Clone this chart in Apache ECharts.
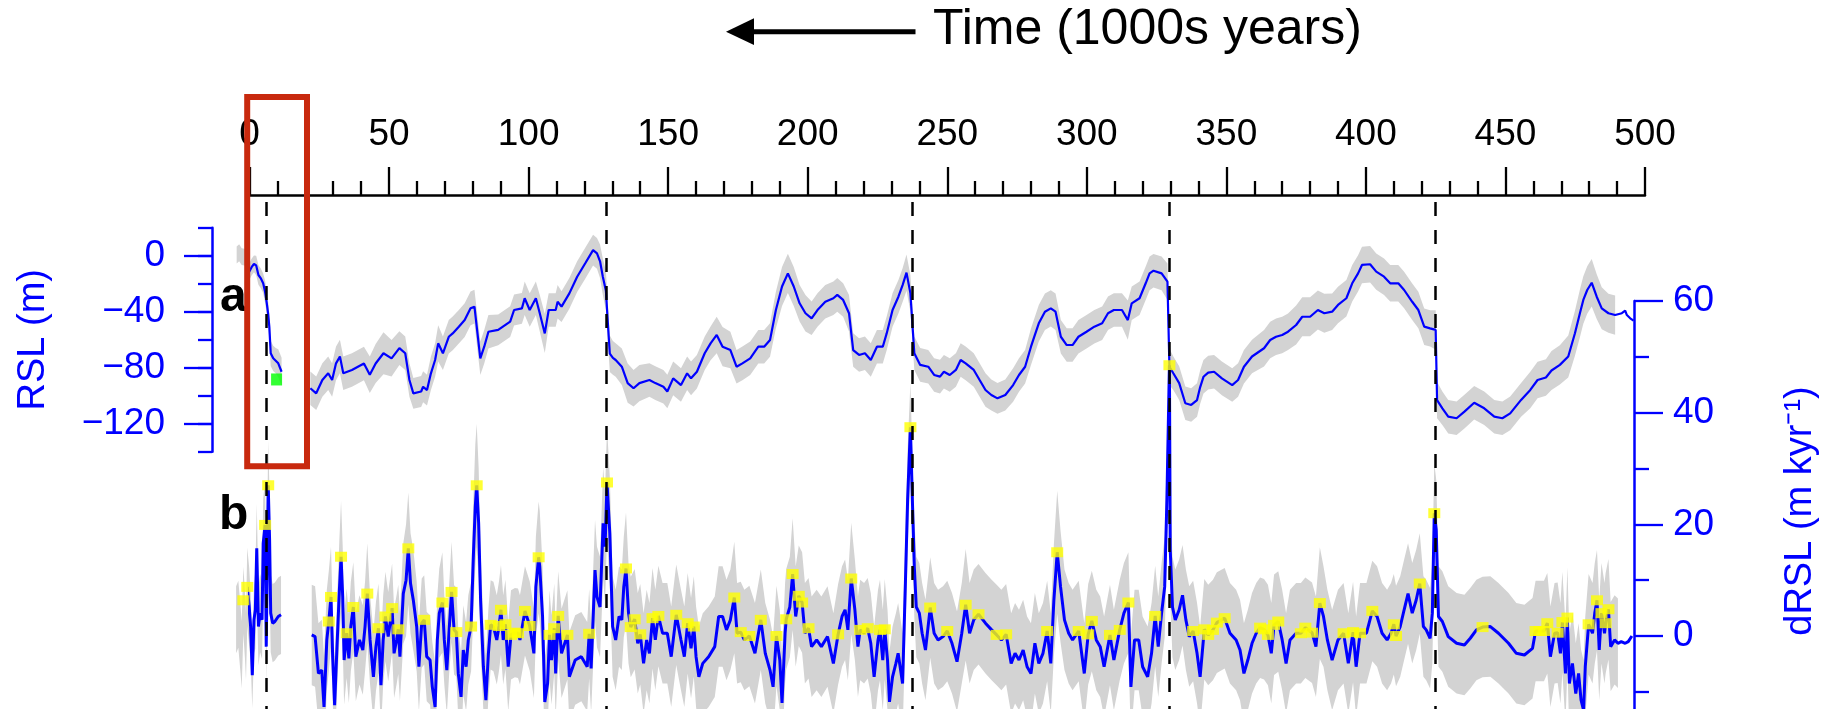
<!DOCTYPE html>
<html>
<head>
<meta charset="utf-8">
<script src="https://cdn.jsdelivr.net/npm/echarts@6/dist/echarts.min.js"></script>
<style>
html, body { margin: 0; padding: 0; background: #fff; }
#chart { width: 1828px; height: 709px; }
</style>
</head>
<body>
<div id="chart"></div>
<script>
// relative sea level, [time (ka), RSL (m), band half-width (m)]
const rslRecent = [
  [-4.6, 0.5, 6], [-3.7, 2.1, 6], [-2.8, -0.7, 6], [-1.8, -1, 6], [-0.8, -2, 6], [-0.1, -11.4, 6],
  [0.8, -8, 6], [1.6, -5.9, 6], [2.4, -7, 7], [3.2, -13.8, 7], [4.0, -16, 7], [4.9, -19.7, 7],
  [5.6, -26, 8], [6.2, -34, 8], [6.7, -42, 9], [7.1, -50.7, 9], [7.6, -69.7, 9], [8.5, -73.3, 9],
  [9.4, -75, 9], [10.3, -76.9, 10], [11.5, -82.9, 10]
];
const rslMain = [
  [21.8, -94.7, 12], [23.9, -98.3, 12], [26.1, -88.8, 12], [28.2, -84, 12], [29.6, -88.8, 12], [31.0, -76.9, 12],
  [32.4, -72, 12], [33.6, -84, 12], [36.7, -81.6, 12], [41.0, -77, 12], [43.1, -85, 13], [45.2, -77, 14],
  [48.0, -69.7, 15], [50.9, -73.3, 13], [53.7, -66, 12], [55.8, -69.7, 12], [57.3, -88.8, 12], [58.7, -98.3, 11],
  [61.5, -97, 11], [62.2, -93.6, 11], [63.6, -96, 11], [65.0, -84, 12], [66.5, -74.5, 12], [67.6, -62.6, 13],
  [69.3, -69.7, 12], [71.4, -57.9, 12], [72.8, -55.5, 12], [75.0, -50.7, 12], [77.1, -46, 12], [79.2, -37.6, 12],
  [80.6, -36.4, 12], [82.7, -73.3, 12], [84.1, -65, 12], [85.6, -54.3, 12], [89.1, -53, 11], [93.4, -47.1, 11],
  [94.8, -38.8, 11], [97.6, -37.6, 11], [98.6, -30.4, 12], [100.4, -38.8, 12], [102.6, -30.4, 12], [104.0, -41.1, 13],
  [105.8, -55.5, 14], [107.2, -38.8, 12], [109.7, -38.8, 12], [110.4, -32.9, 12], [111.8, -36.4, 11], [114.6, -26.9, 11],
  [117.4, -15, 11], [120.3, -5.4, 11], [123.1, 4, 11], [124.5, 1.7, 11], [125.6, -4, 12], [126.6, -15, 13],
  [127.7, -25, 14], [128.3, -45, 14], [129.1, -70, 13], [130.2, -73, 12], [131.2, -74.5, 12], [133.4, -79.3, 13],
  [135.5, -91, 14], [137.6, -94.7, 13], [139.7, -91, 13], [143.3, -88.8, 12], [145.4, -91, 12], [148.3, -93.6, 12],
  [149.7, -97, 12], [151.8, -87.6, 12], [154.6, -92.4, 12], [156.8, -84, 12], [158.2, -87.6, 12], [160.3, -82.9, 12],
  [163.1, -69.7, 12], [165.2, -62.6, 12], [167.4, -56.6, 13], [169.5, -65, 14], [172.3, -67.4, 13], [174.5, -79.3, 12],
  [176.6, -76.9, 12], [179.4, -73.3, 12], [182.3, -65, 12], [184.4, -65, 12], [186.5, -60.2, 12], [188.6, -38.8, 13],
  [190.8, -22, 14], [192.9, -12.6, 14], [195.0, -22, 14], [197.1, -34, 13], [199.2, -41.1, 13], [201.4, -44.7, 12],
  [203.5, -38.8, 12], [206.3, -32.9, 12], [209.2, -30.4, 12], [210.6, -28, 12], [212.7, -31.6, 12], [214.8, -41.1, 13],
  [216.3, -67.4, 12], [218.4, -70.9, 12], [220.5, -69.7, 12], [222.6, -74.5, 12], [224.8, -65, 12], [226.9, -65, 12],
  [228.3, -55.5, 12], [230.4, -38.8, 12], [232.5, -29.3, 12], [234.0, -21, 12], [235.4, -12.1, 13], [236.8, -26.9, 13],
  [238.2, -69.7, 12], [240.3, -78, 12], [243.2, -79.3, 12], [245.3, -85.2, 12], [247.4, -86.4, 12], [248.8, -82.9, 12],
  [250.9, -85.2, 12], [253.1, -81.6, 12], [254.8, -74.5, 12], [256.6, -76.9, 12], [259.5, -81.6, 12], [261.6, -88.8, 12],
  [263.7, -95.9, 12], [265.8, -99.5, 11], [268.0, -101.9, 11], [270.8, -99.5, 11], [273.6, -92.4, 12], [275.7, -85.2, 12],
  [277.9, -79.3, 12], [280.0, -65, 13], [281.4, -56.6, 13], [282.8, -48.3, 13], [285.0, -40, 13], [287.1, -37.6, 13],
  [288.8, -40, 13], [290.7, -57.9, 12], [292.8, -63.8, 12], [294.9, -63.8, 12], [297.0, -57.9, 12], [299.9, -54.3, 12],
  [302.7, -50.7, 12], [305.5, -48.3, 12], [307.6, -41.1, 12], [309.7, -38.8, 12], [312.6, -38.8, 12], [314.7, -46, 14],
  [316.1, -34, 12], [318.9, -30.4, 12], [321.1, -19.7, 12], [322.5, -12.6, 12], [323.9, -10.7, 12], [326.8, -12.6, 12],
  [328.9, -18.6, 13], [329.6, -79.3, 13], [331.0, -84, 12], [333.1, -91, 12], [335.3, -105.4, 12], [337.4, -106.6, 12],
  [339.5, -103.1, 12], [340.6, -94, 12], [341.8, -86.5, 12], [343.5, -83.5, 12], [345.6, -82.9, 12], [348.4, -87.6, 12],
  [352.1, -92.4, 12], [354.2, -88.8, 12], [356.3, -79.3, 12], [359.2, -72, 12], [363.5, -66.1, 13], [365.7, -60.2, 13],
  [367.8, -57.9, 13], [370.0, -56.6, 13], [372.1, -54.3, 13], [375.0, -49.5, 14], [377.2, -43.6, 14], [380.0, -43.6, 14],
  [382.8, -38.8, 14], [385.1, -41.1, 14], [387.9, -40, 13], [390.0, -35.2, 13], [393.0, -30.4, 13], [395.1, -19.7, 13],
  [397.2, -12.6, 13], [398.6, -6.6, 13], [401.5, -6.1, 13], [403.7, -11.4, 13], [406.5, -15, 13], [408.7, -19.7, 13],
  [411.6, -19.7, 13], [413.7, -24.5, 13], [416.6, -32.9, 13], [418.8, -38.8, 13], [420.9, -50.7, 13], [423.0, -51.9, 13],
  [425.0, -53, 14], [425.5, -103.1, 13], [427.4, -109, 12], [429.5, -115, 12], [432.5, -116.1, 12], [435.3, -111.4, 12],
  [438.8, -105, 12], [442.4, -109, 12], [446.0, -115, 12], [448.9, -116.1, 12], [451.7, -112.6, 12], [455.6, -103, 12],
  [458.9, -95.9, 13], [461.5, -88.8, 13], [464.5, -87, 13], [466.5, -82, 14], [469.5, -78, 14], [472.5, -72, 15],
  [474.9, -55.4, 16], [476.7, -41, 17], [477.9, -31.6, 17], [479.3, -24.5, 17], [480.9, -19.3, 17], [482.7, -29.3, 16],
  [484.5, -37.6, 15], [486.9, -41.1, 14], [489.3, -42.4, 14], [491.7, -41.1, null], [492.9, -39.3, null],
  [493.5, -42.4, null], [494.7, -44.7, null], [495.9, -46.4, null]
];
const rslSample = [[9.7, -88.4]];

// rate of sea-level change, [time (ka), dRSL (m/kyr), band half-width]
const drslRecent = [
  [-4.8, 2.9, 6], [-4.0, 3.9, 6], [-3.2, -0.7, 6], [-2.8, -3.4, 6], [-2.2, 6.4, 6], [-1.6, 1.7, 6],
  [-1.25, -1.9, 6], [-0.8, 8.8, 7], [-0.1, 5.2, 7], [0.4, 1.7, 6], [1.0, -7, 6], [1.6, 2.9, 6],
  [2.1, 4.7, 7], [2.6, 15.7, 8], [3.2, 1.7, 7], [3.8, 4.1, 7], [4.5, 2.9, 7], [4.9, 16.6, 8],
  [5.6, 19.9, 8], [6.0, -1.9, 7], [6.7, 27.0, 8], [7.2, 17.2, 8], [7.6, 4.1, 7], [8.3, 2.3, 7],
  [9.1, 2.6, 7], [10.3, 3.5, 7], [11.3, 3.8, 7]
];
const drslMain = [
  [22.3, 0.2, 9], [23.5, -0.1, 9], [24.7, -6.7, 9], [25.9, -6.1, 9], [26.7, -12.7, 9], [27.7, -0.7, 9],
  [28.4, 2.6, 9], [29.2, 7.0, 9], [29.8, -3.7, 8], [30.5, -12.4, 8], [31.2, -3.7, 8], [32.2, 8.2, 9],
  [32.8, 14.2, 10], [33.4, 7, 9], [33.9, -4.3, 8], [34.8, 0.5, 8], [35.6, -4, 8], [36.3, 1.7, 8],
  [37.2, 5.2, 8], [38.1, -3.7, 8], [39.4, -0.7, 8], [40.6, -2.5, 8], [41.4, 1.7, 8], [42.2, 7.6, 9],
  [43.2, -0.7, 8], [44.4, -7.3, 8], [45.3, -1.9, 8], [46.2, 1.4, 8], [47.1, -8.8, 8], [47.9, -0.7, 8],
  [48.7, 3.5, 8], [49.7, -0.1, 8], [51.1, 5.0, 8], [51.8, -3.1, 8], [52.7, -0.7, 8], [53.3, 1.2, 8],
  [53.9, -3.7, 8], [55.1, 7.6, 9], [56.1, 10, 10], [56.9, 15.7, 10], [57.7, 9.4, 9], [58.7, 6.4, 9],
  [59.9, 1.7, 8], [60.7, -5.5, 8], [61.7, 2.3, 8], [62.6, 2.9, 8], [63.5, -3.7, 8], [64.7, -4.3, 8],
  [65.5, -9.1, 8], [66.5, -12.7, 8], [67.3, -0.7, 8], [68.0, 4.1, 8], [69.1, 6.0, 9], [69.8, -0.7, 8],
  [70.7, -6.1, 8], [71.6, 1.7, 8], [72.4, 7.9, 9], [73.3, 1.1, 8], [74.1, 0.7, 8], [74.8, -6.7, 8],
  [75.8, -10.9, 8], [76.6, -2.5, 8], [77.6, -5.5, 8], [78.4, -0.7, 8], [79.4, 1.7, 8], [80.2, 14.2, 10],
  [80.9, 23.2, 11], [81.4, 27.0, 11], [82.1, 20.2, 10], [82.8, 6.4, 9], [83.8, -5.5, 8], [84.7, -11.5, 8],
  [85.6, -3.1, 8], [86.4, 2.0, 8], [87.4, 1.7, 8], [88.6, -0.7, 8], [89.4, 1.8, 8], [90.1, 4.7, 8],
  [90.9, -0.7, 8], [91.7, 2.1, 8], [92.7, -5.5, 8], [93.7, 0.2, 8], [95.1, 0.6, 8], [96.2, 0.5, 8],
  [96.9, -0.7, 8], [98.7, 4.5, 8], [100.4, 1.8, 8], [101.9, -3.1, 8], [102.6, 8.8, 9], [103.6, 14.1, 10],
  [104.0, 12.4, 10], [105.0, 3.5, 9], [105.8, -11.8, 8], [106.8, -8.5, 8], [107.5, 0.2, 8], [108.2, -4.3, 8],
  [109.2, 1.4, 8], [109.7, -6.7, 8], [110.6, 3.6, 8], [111.8, -3.1, 8], [113.9, 0.2, 8], [114.6, -7.3, 8],
  [116.7, -4.3, 8], [118.9, -3.7, 8], [121.0, -5.5, 8], [121.7, 0.4, 8], [122.4, -5.8, 8], [123.8, 11.8, 9],
  [124.5, 7, 9], [125.6, 5.2, 9], [126.7, 20.2, 10], [127.4, 16, 10], [128.1, 27.5, 10], [129.1, 18.4, 10],
  [130.1, 1.7, 9], [131.2, -0.7, 9], [132.4, 3.5, 9], [133.4, 2.9, 9], [134.1, 8.8, 9], [134.9, 12.1, 10],
  [135.8, 4.1, 9], [136.6, 1.6, 9], [138.0, 3.0, 9], [139.1, -1.3, 9], [140.0, 0.3, 9], [141.2, -4.9, 9],
  [142.3, -0.7, 9], [143.3, -3.1, 9], [144.4, 3.2, 9], [145.4, -0.7, 9], [146.5, 3.6, 9], [148.0, 0.5, 9],
  [149.7, 0.5, 9], [151.1, -3.7, 9], [152.9, 3.8, 9], [154.6, -0.7, 9], [155.8, -3.7, 9], [157.0, 2.3, 9],
  [158.2, -2.2, 9], [159.2, 1.7, 9], [160.0, -3.7, 9], [161.0, -7.3, 9], [162.4, -4.9, 9], [164.5, -3.7, 9],
  [166.7, -1.9, 9], [168.1, 3.5, 9], [169.5, 3.5, 9], [170.9, 1.1, 9], [172.3, 2.9, 9], [173.7, 6.9, 10],
  [174.7, 0.5, 9], [176.0, 0.7, 9], [177.3, -0.7, 9], [179.1, 0, 9], [181.1, -3.1, 9], [183.2, 2.9, 9],
  [184.8, -3.1, 9], [186.5, -6.1, 9], [187.6, -9.1, 9], [188.8, 0, 9], [190.0, -4.3, 9], [190.8, -12, 9],
  [191.9, 0.5, 9], [192.3, 3.0, 9], [193.6, 5.2, 9], [194.6, 11.1, 10], [195.7, 3.5, 9], [196.8, 7.2, 9],
  [198.0, 6.0, 9], [199.0, 0.5, 9], [200.3, 1.4, 9], [201.4, -1.9, 9], [203.2, -0.7, 9], [204.9, -1.9, 9],
  [207.1, -0.1, 9], [209.2, -4.9, 9], [210.9, 0.3, 9], [212.3, 3.5, 9], [213.4, 4.7, 9], [214.4, 1.1, 9],
  [215.6, 10.3, 10], [216.9, 4.7, 9], [218.0, -1.9, 9], [218.8, 1.1, 9], [220.2, 0.5, 9], [221.5, 1.4, 9],
  [222.6, -1.3, 9], [223.8, -7.3, 9], [225.2, -0.7, 9], [225.9, 1.1, 9], [226.9, -4.3, 9], [227.6, 1.2, 9],
  [228.6, -4.3, 9], [229.3, -11.8, 9], [230.4, -7.3, 9], [231.6, -4.9, 9], [232.4, -3.1, 9], [234.0, -8.5, 9],
  [235.0, 9.4, 9], [235.8, 24.4, 9], [236.8, 37.4, 8], [237.5, 24.4, 8], [238.2, 12.4, 9], [238.9, 5.2, 9],
  [240.0, 4.1, 9], [241.0, 0.5, 9], [242.2, -2.5, 9], [243.9, 5.1, 9], [245.3, 0.5, 9], [246.7, -0.7, 9],
  [248.5, -0.1, 9], [250.0, 0.9, 9], [251.7, -1.3, 9], [253.5, -4.6, 9], [255.2, 0.5, 9], [256.6, 5.6, 10],
  [258.0, 0.5, 9], [259.5, 2.9, 9], [261.2, 3.9, 9], [263.7, 2.3, 9], [265.9, 1.1, 9], [267.7, 0.2, 9],
  [269.4, -0.7, 9], [271.1, 0.3, 9], [272.9, -4.9, 9], [274.3, -3.1, 9], [275.7, -4.3, 9], [277.2, -2.5, 9],
  [278.6, -5.5, 9], [280.0, -6.7, 9], [281.4, -1.3, 9], [282.8, -4.9, 9], [284.3, -3.1, 9], [285.8, 0.9, 9],
  [287.1, -4.9, 9], [288.2, 6.4, 10], [289.4, 15.0, 11], [290.6, 8.8, 10], [292.0, 2.9, 9], [293.5, 0.5, 9],
  [294.9, -0.7, 9], [297.1, 0.9, 9], [299.1, -6.7, 9], [300.5, 0.3, 9], [301.8, 2.7, 9], [303.4, -0.7, 9],
  [304.8, -1.9, 9], [306.2, -5.5, 9], [308.3, 0.2, 9], [309.7, -4.3, 9], [311.8, 1.1, 9], [313.3, 4.1, 9],
  [314.9, 6.0, 9], [315.8, -9.1, 9], [317.1, -0.7, 9], [318.6, -0.7, 9], [320.0, -5.5, 9], [321.8, -7.3, 9],
  [323.2, -3.1, 9], [324.5, 3.6, 9], [325.6, -1.9, 9], [326.8, 4.1, 9], [327.9, 8.8, 9], [328.7, 24.4, 9],
  [329.6, 48.5, 8], [329.9, 15.4, 9], [330.7, 5.2, 9], [331.7, 2.9, 9], [333.1, 4.7, 9], [334.3, 7.3, 9],
  [335.5, 2.9, 9], [336.7, -0.1, 9], [338.1, 0.9, 9], [339.5, -3.1, 9], [340.6, -7.3, 9], [342.1, 1.2, 9],
  [343.5, 0.2, 9], [345.2, 1.1, 9], [346.6, 2.4, 9], [349.4, 3.2, 9], [351.3, 0.5, 9], [353.5, -0.7, 9],
  [354.9, -2.5, 9], [356.3, -6.7, 9], [357.7, -4.3, 9], [359.2, -1.3, 9], [360.7, 0.5, 9], [362.1, 1.5, 9],
  [363.5, 1.2, 9], [364.9, 0.2, 9], [366.1, -3.1, 9], [367.1, 2.0, 9], [368.6, 2.6, 9], [370.0, -0.7, 9],
  [371.4, -4.9, 9], [372.8, -0.7, 9], [375.0, 0.5, 9], [376.7, 0.5, 9], [378.3, 1.5, 9], [380.7, 0.6, 9],
  [382.1, -1.9, 9], [383.5, 5.9, 10], [384.8, 3.5, 9], [386.2, -0.7, 9], [387.9, -4.3, 9], [390.0, -0.7, 9],
  [392.0, 0.5, 9], [393.7, -4.9, 9], [395.4, 0.7, 9], [396.5, -5.5, 9], [397.9, 0.5, 9], [400.2, 0.5, 9],
  [402.3, 4.5, 9], [404.0, 3.5, 9], [405.8, 0.5, 9], [407.6, -0.7, 9], [409.0, 0.5, 9], [410.0, 2.1, 9],
  [410.8, 0, 9], [412.3, 1.7, 9], [413.7, 4.7, 9], [415.1, 7.6, 9], [416.6, 4.1, 9], [418.0, 6.4, 9],
  [419.3, 9.4, 9], [420.6, 1.7, 9], [421.6, 1.1, 9], [423.0, -0.4, 9], [423.8, 4.1, 9], [424.5, 22.0, 9],
  [425.2, 19, 9], [426.0, 3.5, 9], [427.4, 2.6, 9], [429.5, -0.1, 9], [432.5, -1.3, 9], [435.3, -1.6, 9],
  [437.4, -0.4, 9], [439.6, 1.1, 9], [441.8, 1.6, 9], [444.6, 1.7, 9], [447.5, 0.5, 9], [451.1, -1.3, 9],
  [453.9, -3.1, 9], [456.8, -3.4, 9], [459.7, -2.2, 9], [460.8, 0.9, 9], [462.2, 0.9, 9], [463.8, 0.9, 9],
  [465.0, 2.3, 9], [466.1, -3.7, 9], [467.6, 0.5, 9], [468.7, 0.6, 9], [469.7, -3.1, 9], [470.4, 2.5, 9],
  [471.5, -6.7, 9], [472.2, 3.3, 9], [472.9, -8.5, 9], [474.0, -4.9, 9], [475.2, -10.3, 9], [476.2, -6.7, 9],
  [477.1, -11.5, 9], [478.0, -13.3, 9], [478.6, -5.5, 9], [479.8, 2.1, 9], [481.2, 0.5, 9], [482.0, 4.1, 9],
  [482.8, 6.4, 9], [483.6, -2.5, 9], [484.4, 4.1, 9], [485.5, 0.5, 9], [485.9, 2.3, 9], [486.9, 4.8, 9],
  [487.7, -1.9, 8], [489.1, -0.7, 8], [490.3, -1.3, 8], [491.5, -1.0, null], [492.9, -1.3, null],
  [494.0, -1.0, null], [495.3, 0.0, null]
];
// yellow squares (identified sea-level jumps)
const drslPeaks = [
  [-2.2, 6.4], [-0.8, 8.8], [5.6, 19.9], [6.7, 27.0],
  [28.4, 2.6], [29.2, 7.0], [32.8, 14.2], [34.8, 0.5], [37.2, 5.2], [42.2, 7.6], [46.2, 1.4], [48.7, 3.5],
  [51.1, 5.0], [53.3, 1.2], [56.9, 15.7], [62.6, 2.9], [69.1, 6.0], [72.4, 7.9], [74.1, 0.7], [79.4, 1.7],
  [81.4, 27.0], [86.4, 2.0], [89.4, 1.8], [90.1, 4.7], [91.7, 2.1], [93.7, 0.2], [95.1, 0.6], [96.2, 0.5],
  [98.7, 4.5], [100.4, 1.8], [103.6, 14.1], [107.5, 0.2], [109.2, 1.4], [110.6, 3.6], [113.9, 0.2], [121.7, 0.4],
  [128.1, 27.5], [134.9, 12.1], [136.6, 1.6], [138.0, 3.0], [140.0, 0.3], [144.4, 3.2], [146.5, 3.6], [152.9, 3.8],
  [157.0, 2.3], [159.2, 1.7], [173.7, 6.9], [176.0, 0.7], [179.1, 0], [183.2, 2.9], [188.8, 0], [192.3, 3.0],
  [194.6, 11.1], [196.8, 7.2], [198.0, 6.0], [200.3, 1.4], [210.9, 0.3], [215.6, 10.3], [218.8, 1.1], [221.5, 1.4],
  [225.9, 1.1], [227.6, 1.2], [236.8, 37.4], [243.9, 5.1], [250.0, 0.9], [256.6, 5.6], [261.2, 3.9], [267.7, 0.2],
  [271.1, 0.3], [285.8, 0.9], [289.4, 15.0], [297.1, 0.9], [300.5, 0.3], [301.8, 2.7], [308.3, 0.2], [311.8, 1.1],
  [314.9, 6.0], [324.5, 3.6], [329.6, 48.5], [338.1, 0.9], [342.1, 1.2], [343.5, 0.2], [345.2, 1.1], [346.6, 2.4],
  [349.4, 3.2], [362.1, 1.5], [363.5, 1.2], [364.9, 0.2], [367.1, 2.0], [368.6, 2.6], [376.7, 0.5], [378.3, 1.5],
  [380.7, 0.6], [383.5, 5.9], [392.0, 0.5], [395.4, 0.7], [397.9, 0.5], [402.3, 4.5], [410.0, 2.1], [410.8, 0],
  [419.3, 9.4], [424.5, 22.0], [441.8, 1.6], [460.8, 0.9], [462.2, 0.9], [463.8, 0.9], [465.0, 2.3], [468.7, 0.6],
  [470.4, 2.5], [472.2, 3.3], [479.8, 2.1], [482.8, 6.4], [484.4, 4.1], [485.9, 2.3], [486.9, 4.8]
];
// glacial terminations (dashed lines)
const terminations = [6, 127.8, 237.5, 329.6, 425];

const FONT = "'Liberation Sans', Arial, Helvetica, sans-serif";
const BLUE = '#0000ff';
const GREY = '#d3d3d3';
const minus = v => String(v).replace('-', '\u2212');

const rslSegments = [rslRecent, rslMain];
const drslSegments = [drslRecent, drslMain];

function bandItem(segments) {
  return function (params, api) {
    const seg = segments[api.value(0)].filter(p => p[2] != null);
    const upper = seg.map(p => api.coord([p[0], p[1] + p[2]]));
    const lower = seg.map(p => api.coord([p[0], p[1] - p[2]])).reverse();
    return {
      type: 'polygon',
      silent: true,
      shape: { points: upper.concat(lower) },
      style: { fill: GREY }
    };
  };
}

const chart = echarts.init(document.getElementById('chart'));
const gridBase = { left: 249.5, width: 1395.5, containLabel: false, outerBoundsMode: 'none' };

chart.setOption({
  animation: false,
  backgroundColor: '#fff',
  textStyle: { fontFamily: FONT },
  grid: [
    Object.assign({ top: 227.7, height: 224 }, gridBase),     // RSL
    Object.assign({ top: 301, height: 446.7 }, gridBase),     // dRSL
    Object.assign({ top: 202, height: 507 }, gridBase),       // dashed lines
    Object.assign({ top: 255.7, height: 167.6 }, gridBase)    // RSL labelled ticks
  ],
  xAxis: [
    {
      gridIndex: 0, type: 'value', min: 0, max: 500, interval: 50,
      position: 'top', offset: 32.7,
      axisLine: { onZero: false, lineStyle: { color: '#000', width: 2.5 } },
      axisTick: { length: 28, lineStyle: { color: '#000', width: 2.3 } },
      minorTick: { show: true, splitNumber: 5, length: 14, lineStyle: { color: '#000', width: 2.3 } },
      axisLabel: { fontSize: 37, color: '#000', margin: 42, fontFamily: FONT },
      splitLine: { show: false }, minorSplitLine: { show: false }
    },
    { gridIndex: 1, type: 'value', min: 0, max: 500, show: false },
    { gridIndex: 2, type: 'value', min: 0, max: 500, show: false },
    { gridIndex: 3, type: 'value', min: 0, max: 500, show: false }
  ],
  yAxis: [
    {
      gridIndex: 0, type: 'value', min: -140, max: 20, interval: 20,
      position: 'left', offset: 37.5,
      axisLine: { show: true, onZero: false, lineStyle: { color: BLUE, width: 2.5 } },
      axisTick: { show: true, length: 14, lineStyle: { color: BLUE, width: 2.3 } },
      axisLabel: { show: false },
      splitLine: { show: false },
      name: 'RSL (m)', nameLocation: 'middle', nameRotate: 90, nameGap: 159,
      nameTextStyle: { color: BLUE, fontSize: 38, fontFamily: FONT }
    },
    {
      gridIndex: 1, type: 'value', min: -20, max: 60, interval: 20,
      position: 'right', offset: -11,
      axisLine: { show: true, onZero: false, lineStyle: { color: BLUE, width: 2.5 } },
      axisTick: { show: true, length: 29, lineStyle: { color: BLUE, width: 2.3 } },
      minorTick: { show: true, splitNumber: 2, length: 15, lineStyle: { color: BLUE, width: 2.3 } },
      axisLabel: { fontSize: 37, color: BLUE, margin: 39, formatter: minus, fontFamily: FONT },
      splitLine: { show: false }, minorSplitLine: { show: false }
    },
    { gridIndex: 2, type: 'value', min: 0, max: 1, inverse: true, show: false },
    {
      gridIndex: 3, type: 'value', min: -120, max: 0, interval: 40,
      position: 'left', offset: 37.5,
      axisLine: { show: false, onZero: false },
      axisTick: { show: true, length: 28, lineStyle: { color: BLUE, width: 2.3 } },
      axisLabel: { fontSize: 37, color: BLUE, margin: 47, formatter: minus, fontFamily: FONT },
      splitLine: { show: false }
    }
  ],
  series: [
    {
      type: 'custom', xAxisIndex: 0, yAxisIndex: 0, z: 1, silent: true,
      data: [[0, 0], [1, 0]], renderItem: bandItem(rslSegments)
    },
    {
      type: 'custom', xAxisIndex: 1, yAxisIndex: 1, z: 1, silent: true,
      data: [[0, 0], [1, 0]], renderItem: bandItem(drslSegments)
    },
    {
      type: 'line', xAxisIndex: 2, yAxisIndex: 2, z: 2, data: [[0, 0]], showSymbol: false,
      lineStyle: { opacity: 0 },
      markLine: {
        silent: true, symbol: ['none', 'none'], label: { show: false },
        lineStyle: { type: [14, 14], color: '#000', width: 2.5 },
        emphasis: { disabled: true },
        data: terminations.map(t => ({ xAxis: t }))
      }
    },
    ...rslSegments.map(seg => ({
      type: 'line', xAxisIndex: 0, yAxisIndex: 0, z: 3, clip: false, showSymbol: false,
      data: seg.map(p => [p[0], p[1]]),
      lineStyle: { color: BLUE, width: 2.2 }
    })),
    ...drslSegments.map(seg => ({
      type: 'line', xAxisIndex: 1, yAxisIndex: 1, z: 3, clip: false, showSymbol: false,
      data: seg.map(p => [p[0], p[1]]),
      lineStyle: { color: BLUE, width: 3 }
    })),
    {
      type: 'scatter', xAxisIndex: 0, yAxisIndex: 0, z: 4, clip: false,
      symbol: 'rect', symbolSize: [11, 12], data: rslSample,
      itemStyle: { color: '#00ff00' }
    },
    {
      type: 'scatter', xAxisIndex: 1, yAxisIndex: 1, z: 4, clip: false,
      symbol: 'rect', symbolSize: [12, 10], data: drslPeaks,
      itemStyle: { color: '#ffff00' }
    }
  ],
  graphic: [
    {
      type: 'text', x: 933, y: 30,
      style: { text: 'Time (1000s years)', fontSize: 50, fontFamily: FONT, fill: '#000', align: 'left', verticalAlign: 'middle' }
    },
    {
      type: 'line', shape: { x1: 752, y1: 31.7, x2: 915.5, y2: 31.7 },
      style: { stroke: '#000', lineWidth: 5 }
    },
    {
      type: 'polygon', shape: { points: [[726, 31.7], [754, 18.3], [754, 45]] },
      style: { fill: '#000' }
    },
    {
      type: 'rect', shape: { x: 247.2, y: 97, width: 59.8, height: 369.3 },
      style: { fill: 'none', stroke: '#c8290e', lineWidth: 6 }, z: 10
    },
    {
      type: 'text', x: 220, y: 297.4,
      style: { text: 'a', fontSize: 48, fontWeight: 'bold', fontFamily: FONT, fill: '#000', align: 'left', verticalAlign: 'middle' }
    },
    {
      type: 'text', x: 219, y: 516,
      style: { text: 'b', fontSize: 48, fontWeight: 'bold', fontFamily: FONT, fill: '#000', align: 'left', verticalAlign: 'middle' }
    },
    {
      type: 'text', x: 1801, y: 511, rotation: Math.PI / 2,
      style: {
        text: 'dRSL (m kyr\u207B\u00B9)',
        fontSize: 38, fontFamily: FONT, fill: BLUE,
        align: 'center', verticalAlign: 'middle'
      }
    }
  ]
});
</script>
</body>
</html>
